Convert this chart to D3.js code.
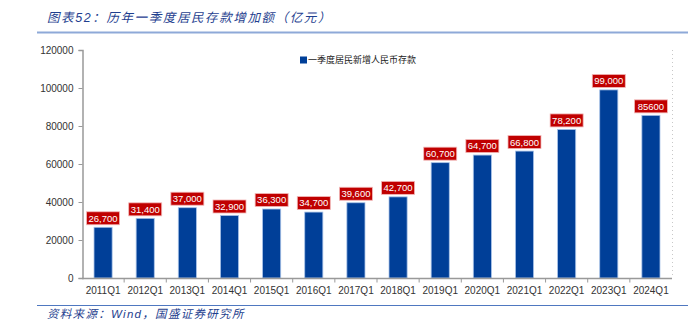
<!DOCTYPE html>
<html>
<head>
<meta charset="utf-8">
<script src="https://cdn.jsdelivr.net/npm/d3@7"></script>
<style>
  body { margin: 0; background: #fff; }
  svg { display: block; }
</style>
</head>
<body>
<div id="chart"></div>
<script>
// data
const quarters = ['2011Q1', '2012Q1', '2013Q1', '2014Q1', '2015Q1', '2016Q1', '2017Q1',
  '2018Q1', '2019Q1', '2020Q1', '2021Q1', '2022Q1', '2023Q1', '2024Q1'];
const deposits = [26700, 31400, 37000, 32900, 36300, 34700, 39600,
  42700, 60700, 64700, 66800, 78200, 99000, 85600];
const labels = ['26,700', '31,400', '37,000', '32,900', '36,300', '34,700', '39,600',
  '42,700', '60,700', '64,700', '66,800', '78,200', '99,000', '85600'];
const yTicks = [0, 20000, 40000, 60000, 80000, 100000, 120000];

const width = 688;
const height = 324;
const font = 'Arial, "Liberation Sans", "Noto Sans CJK SC", sans-serif';

const svg = d3.select('#chart').append('svg')
  .attr('width', width).attr('height', height);

// title + rules
svg.append('text')
  .attr('x', 47).attr('y', 22)
  .attr('fill', '#1f3f8f')
  .style('font-family', font)
  .style('font-size', '12.5px')
  .style('font-style', 'italic')
  .style('letter-spacing', '1.6px')
  .text('图表52：历年一季度居民存款增加额（亿元）');

svg.append('line')
  .attr('x1', 37).attr('x2', width).attr('y1', 32.5).attr('y2', 32.5)
  .attr('stroke', '#8ea9d8').attr('stroke-width', 2);

svg.append('line')
  .attr('x1', 37).attr('x2', width).attr('y1', 305.5).attr('y2', 305.5)
  .attr('stroke', '#4f78c0').attr('stroke-width', 1.2);

svg.append('text')
  .attr('x', 47).attr('y', 318)
  .attr('fill', '#1f3f8f')
  .style('font-family', font)
  .style('font-size', '11.5px')
  .style('font-style', 'italic')
  .style('letter-spacing', '1.3px')
  .text('资料来源：Wind，国盛证券研究所');

// scales
const x = d3.scaleBand().domain(quarters).range([82, 672]).paddingInner(0.57).paddingOuter(0.285);
const y = d3.scaleLinear().domain([0, 120000]).range([278, 50]);

// right dotted border
svg.append('line')
  .attr('x1', 672.5).attr('x2', 672.5).attr('y1', 50).attr('y2', 278)
  .attr('stroke', '#c8c8c8').attr('stroke-dasharray', '1,3');

// y axis
const yAxis = svg.append('g')
  .attr('transform', 'translate(82.5,0)')
  .call(d3.axisLeft(y).tickValues(yTicks).tickSize(4).tickPadding(5).tickFormat(d3.format('d')));
yAxis.select('.domain').attr('stroke', '#999').attr('stroke-width', 1.5);
yAxis.selectAll('.tick line').attr('stroke', '#999');
yAxis.selectAll('text').attr('fill', '#333').style('font-family', font).style('font-size', '10px');

// bars
svg.append('g').selectAll('rect')
  .data(quarters)
  .join('rect')
  .attr('x', (d) => x(d))
  .attr('y', (d, i) => y(deposits[i]))
  .attr('width', x.bandwidth())
  .attr('height', (d, i) => y(0) - y(deposits[i]))
  .attr('fill', '#003f98')
  .attr('stroke', '#a9c3e8')
  .attr('stroke-width', 0.8);

// x axis, ticks between categories
const xAxis = svg.append('g').attr('transform', 'translate(0,278.5)');
xAxis.append('line')
  .attr('x1', 82).attr('x2', 672)
  .attr('stroke', '#999').attr('stroke-width', 1.5);
xAxis.selectAll('.sep')
  .data(d3.range(1, quarters.length))
  .join('line')
  .attr('class', 'sep')
  .attr('x1', (i) => 82 + i * (590 / quarters.length))
  .attr('x2', (i) => 82 + i * (590 / quarters.length))
  .attr('y1', 0).attr('y2', 4)
  .attr('stroke', '#999');
xAxis.selectAll('text')
  .data(quarters)
  .join('text')
  .attr('x', (d) => x(d) + x.bandwidth() / 2)
  .attr('y', 15)
  .attr('text-anchor', 'middle')
  .attr('fill', '#333')
  .style('font-family', font)
  .style('font-size', '10px')
  .text((d) => d);

// value labels on red boxes
const lab = svg.append('g').selectAll('g')
  .data(quarters)
  .join('g')
  .attr('transform', (d, i) => `translate(${x(d) + x.bandwidth() / 2},${y(deposits[i]) - 9})`);
lab.append('rect')
  .attr('x', -16.5).attr('y', -6.5)
  .attr('width', 33).attr('height', 13)
  .attr('fill', '#c00000')
  .attr('stroke', '#f2b8b8')
  .attr('stroke-width', 0.8);
lab.append('text')
  .attr('text-anchor', 'middle')
  .attr('dy', '0.36em')
  .attr('fill', '#fff')
  .style('font-family', font)
  .style('font-size', '9.5px')
  .text((d, i) => labels[i]);

// legend
const legend = svg.append('g').attr('transform', 'translate(300,60)');
legend.append('rect')
  .attr('x', 0).attr('y', -3.5).attr('width', 7).attr('height', 7)
  .attr('fill', '#003f98');
legend.append('text')
  .attr('x', 8).attr('dy', '0.35em')
  .attr('fill', '#222')
  .style('font-family', '"Noto Sans CJK SC", sans-serif')
  .style('font-size', '9px')
  .text('一季度居民新增人民币存款');
</script>
</body>
</html>
